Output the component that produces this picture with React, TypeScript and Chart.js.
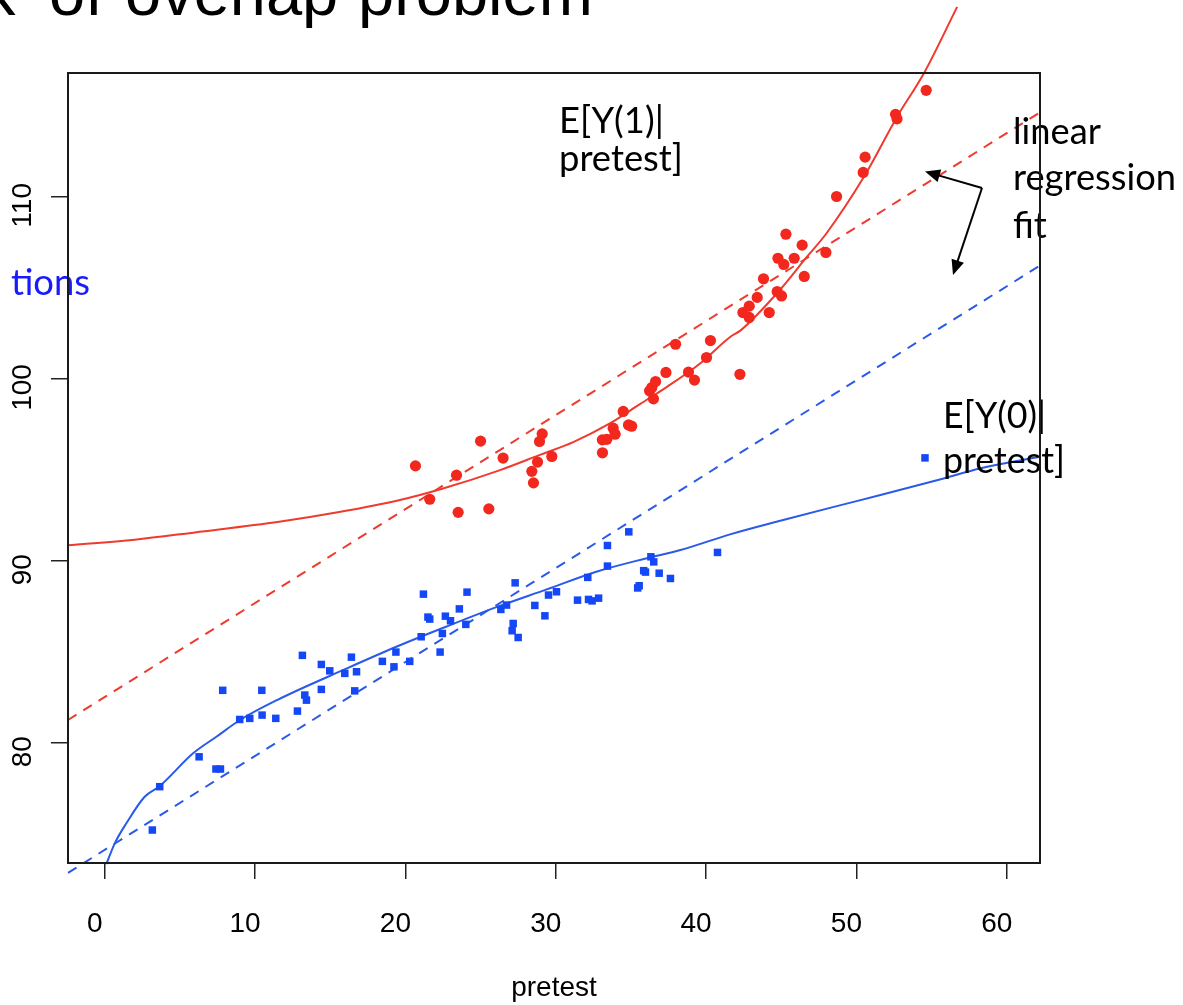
import React, { useEffect, useRef } from "react";
import { Chart, registerables } from "chart.js";

Chart.register(...registerables);

// ---------- data ----------
const xTickValues = [0, 10, 20, 30, 40, 50, 60];
const yTickValues = [80, 90, 100, 110];

const redX = [20.67, 21.62, 23.4, 23.51, 25.0, 25.55, 26.5, 28.41, 28.52, 28.79, 28.92, 29.1, 29.74, 33.11, 33.1, 33.4, 33.82, 33.95, 34.49, 34.84, 35.05, 36.24, 36.39, 36.64, 36.5, 37.33, 37.97, 38.83, 39.23, 40.03, 40.29, 42.25, 42.45, 42.87, 42.87, 43.4, 43.82, 44.2, 44.73, 45.02, 44.78, 45.17, 45.86, 46.53, 45.31, 46.39, 47.97, 48.68, 50.45, 50.58, 52.6, 52.7, 54.64, 56.58];
const redY = [95.2, 93.37, 94.69, 92.65, 96.56, 92.84, 95.63, 94.9, 94.27, 95.41, 96.54, 96.96, 95.72, 95.92, 96.63, 96.66, 97.27, 96.94, 98.19, 97.45, 97.38, 99.32, 99.5, 99.83, 98.88, 100.33, 101.88, 100.35, 99.91, 101.15, 102.08, 100.23, 103.62, 103.97, 103.35, 104.45, 105.47, 103.62, 104.77, 104.53, 106.6, 106.26, 106.6, 105.6, 107.92, 107.32, 106.92, 109.99, 111.31, 112.15, 114.5, 114.25, 115.82, 118.91];

const blueX = [3.17, 3.66, 6.28, 7.4, 7.7, 7.85, 8.98, 9.65, 10.45, 10.47, 11.38, 12.82, 13.31, 13.42, 13.15, 14.41, 14.41, 14.97, 15.97, 16.75, 16.41, 16.63, 18.47, 19.37, 19.24, 20.29, 21.05, 21.2, 21.62, 21.5, 22.31, 22.46, 22.66, 23.0, 23.59, 24.02, 24.1, 26.35, 26.73, 27.3, 27.17, 27.1, 27.5, 28.61, 29.28, 29.52, 30.05, 31.45, 32.13, 32.18, 32.42, 32.85, 33.44, 33.44, 34.86, 35.55, 35.45, 35.97, 35.85, 36.33, 36.52, 36.88, 37.63, 40.76, 54.56];
const blueY = [75.21, 77.59, 79.23, 78.56, 78.56, 82.88, 81.28, 81.34, 82.88, 81.52, 81.34, 81.74, 82.62, 82.34, 84.8, 84.3, 82.93, 83.95, 83.81, 83.9, 84.7, 82.85, 84.47, 84.98, 84.17, 84.47, 85.82, 88.16, 86.79, 86.9, 84.98, 86.0, 86.95, 86.7, 87.35, 86.5, 88.27, 87.32, 87.56, 88.78, 86.55, 86.15, 85.78, 87.54, 86.97, 88.11, 88.29, 87.83, 89.08, 87.87, 87.79, 87.94, 89.7, 90.83, 91.58, 88.62, 88.5, 89.37, 89.45, 90.21, 89.93, 89.31, 89.02, 90.45, 95.64];

const redCurveX = [-2.44, 2, 6, 11.6, 15.5, 19.5, 22.5, 26.3, 28.9, 31.2, 33.6, 35.6, 37.4, 39.6, 41.6, 42.3, 44.9, 46.7, 48.0, 50.5, 52.7, 54.5, 56.7];
const redCurveY = [90.85, 91.15, 91.55, 92.13, 92.65, 93.3, 93.96, 94.97, 95.79, 96.52, 97.53, 98.59, 99.54, 100.82, 102.28, 102.64, 104.85, 106.67, 107.96, 111.07, 114.36, 116.77, 120.4];

const blueCurveX = [0.11, 0.67, 1.44, 2.66, 3.66, 5.88, 7.43, 9.0, 11.5, 16.1, 19.4, 22.7, 26.1, 29.4, 32.7, 36.0, 38.3, 41.6, 45, 48.5, 51.6, 55.8, 58.2, 62.2];
const blueCurveY = [73.34, 74.48, 75.58, 77.04, 77.62, 79.42, 80.33, 81.25, 82.36, 84.08, 85.27, 86.37, 87.46, 88.42, 89.39, 90.12, 90.58, 91.44, 92.2, 92.95, 93.6, 94.51, 95.06, 95.7];

const redFitX = [-2.44, 62.21];
const redFitY = [81.25, 114.61];
const blueFitX = [-2.44, 62.21];
const blueFitY = [72.86, 106.2];

const X_MIN = -2.44;
const X_MAX = 62.21;
const Y_MIN = 73.4;
const Y_MAX = 116.77;

// ---------- helpers ----------
const pts = (xs: number[], ys: number[]) => xs.map((x, i) => ({ x, y: ys[i] }));

const RED_PT = "#f2271d";
const RED_LN = "#ef3b2e";
const BLUE_PT = "#1447f5";
const BLUE_LN = "#2a5ae8";
const SLIDE_FONT = '"Lato", "Open Sans", sans-serif';
const AXIS_FONT = '"Liberation Sans", Arial, sans-serif';

function fitSize(ctx: CanvasRenderingContext2D, ref: string, width: number, family: string) {
  ctx.font = `100px ${family}`;
  const w = ctx.measureText(ref).width;
  return (100 * width) / w;
}

function arrow(ctx: CanvasRenderingContext2D, x0: number, y0: number, x1: number, y1: number) {
  const ang = Math.atan2(y1 - y0, x1 - x0);
  const len = 15;
  const hw = 6.5;
  ctx.beginPath();
  ctx.moveTo(x0, y0);
  ctx.lineTo(x1 - Math.cos(ang) * (len - 2), y1 - Math.sin(ang) * (len - 2));
  ctx.stroke();
  ctx.beginPath();
  ctx.moveTo(x1, y1);
  ctx.lineTo(x1 - Math.cos(ang) * len - Math.sin(ang) * hw, y1 - Math.sin(ang) * len + Math.cos(ang) * hw);
  ctx.lineTo(x1 - Math.cos(ang) * len + Math.sin(ang) * hw, y1 - Math.sin(ang) * len - Math.cos(ang) * hw);
  ctx.closePath();
  ctx.fill();
}

const slidePlugin = {
  id: "slideAnnotations",
  afterDraw(chart: any) {
    const ctx: CanvasRenderingContext2D = chart.ctx;
    const { left, top, right, bottom } = chart.chartArea;
    ctx.save();
    ctx.textAlign = "left";
    ctx.textBaseline = "alphabetic";

    // slide title (cut at top of the picture)
    ctx.fillStyle = "#000";
    ctx.font = `65px ${AXIS_FONT}`;
    ctx.fillText("k", -17, 15);
    ctx.fillText("of", 49, 15);
    ctx.fillText("overlap", 125, 15);
    ctx.fillText("problem", 358, 15);

    // side word of the slide
    const s0 = fitSize(ctx, "pretest]", 124, SLIDE_FONT);
    ctx.font = `${s0}px ${SLIDE_FONT}`;
    ctx.fillStyle = "#1a1aff";
    ctx.textAlign = "right";
    ctx.fillText("tions", 90, 295);
    ctx.textAlign = "left";

    // E[Y(1)|pretest]
    ctx.fillStyle = "#000";
    ctx.fillText("E[Y(1)|", 559, 133);
    ctx.fillText("pretest]", 559, 171);

    // linear regression fit
    const s1 = fitSize(ctx, "regression", 163, SLIDE_FONT);
    ctx.font = `${s1}px ${SLIDE_FONT}`;
    ctx.fillText("linear", 1013, 144);
    ctx.fillText("regression", 1013, 190);
    ctx.fillText("fit", 1013, 238);

    // E[Y(0)|pretest]
    const s2 = fitSize(ctx, "pretest]", 122, SLIDE_FONT);
    ctx.font = `${s2}px ${SLIDE_FONT}`;
    ctx.fillText("E[Y(0)|", 943, 428);
    ctx.fillText("pretest]", 943, 473);

    // arrows
    ctx.strokeStyle = "#000";
    ctx.fillStyle = "#000";
    ctx.lineWidth = 2;
    arrow(ctx, 982, 188, 925, 171.5);
    arrow(ctx, 982, 188, 953, 275);

    // plot box
    ctx.strokeStyle = "#1a1a1a";
    ctx.lineWidth = 2;
    ctx.strokeRect(left, top, right - left, bottom - top);
    ctx.restore();
  },
};

export default function App() {
  const ref = useRef<HTMLCanvasElement>(null);

  useEffect(() => {
    if (!ref.current) return;
    const tickFont = { family: AXIS_FONT, size: 28 };
    const curve = {
      showLine: true,
      borderWidth: 2,
      pointRadius: 0,
      cubicInterpolationMode: "monotone",
      clip: false,
    };
    const fit = {
      showLine: true,
      borderWidth: 2,
      borderDash: [10, 8],
      pointRadius: 0,
      clip: false,
    };
    const chart = new Chart(ref.current, {
      type: "scatter",
      data: {
        datasets: [
          {
            label: "treated",
            data: pts(redX, redY),
            pointStyle: "circle",
            pointRadius: 5.6,
            pointBackgroundColor: RED_PT,
            pointBorderWidth: 0,
            showLine: false,
            clip: false,
          } as any,
          {
            label: "control",
            data: pts(blueX, blueY),
            pointStyle: "rect",
            pointRadius: 5.3,
            pointBackgroundColor: BLUE_PT,
            pointBorderWidth: 0,
            showLine: false,
            clip: false,
          } as any,
          { label: "E[Y(1)|pretest]", data: pts(redCurveX, redCurveY), borderColor: RED_LN, ...curve } as any,
          { label: "E[Y(0)|pretest]", data: pts(blueCurveX, blueCurveY), borderColor: BLUE_LN, ...curve } as any,
          { label: "linear fit treated", data: pts(redFitX, redFitY), borderColor: RED_LN, ...fit } as any,
          { label: "linear fit control", data: pts(blueFitX, blueFitY), borderColor: BLUE_LN, ...fit } as any,
        ],
      },
      options: {
        responsive: false,
        animation: false,
        events: [],
        layout: { padding: { left: 0, top: 73, right: 143, bottom: 0 } },
        plugins: {
          legend: { display: false },
          tooltip: { enabled: false },
          title: { display: false },
        },
        scales: {
          x: {
            type: "linear",
            min: X_MIN,
            max: X_MAX,
            afterBuildTicks: (axis: any) => {
              axis.ticks = xTickValues.map((v) => ({ value: v }));
            },
            afterFit: (axis: any) => {
              axis.height = 142;
            },
            ticks: {
              font: tickFont,
              color: "#000",
              padding: 28,
              labelOffset: -10,
              autoSkip: false,
              maxRotation: 0,
              minRotation: 0,
              callback: (v: any) => String(v),
            },
            grid: {
              drawOnChartArea: false,
              drawTicks: true,
              tickLength: 16,
              color: "#222",
              lineWidth: 1.5,
            },
            border: { display: false },
            title: {
              display: true,
              text: "pretest",
              color: "#000",
              font: { family: AXIS_FONT, size: 28 },
              padding: { top: 0, bottom: 0 },
            },
          },
          y: {
            type: "linear",
            min: Y_MIN,
            max: Y_MAX,
            afterBuildTicks: (axis: any) => {
              axis.ticks = yTickValues.map((v) => ({ value: v }));
            },
            afterFit: (axis: any) => {
              axis.width = 68;
            },
            ticks: {
              font: tickFont,
              color: "#000",
              padding: 4,
              labelOffset: 9,
              crossAlign: "center",
              minRotation: 90,
              maxRotation: 90,
              autoSkip: false,
              callback: (v: any) => String(v),
            },
            grid: {
              drawOnChartArea: false,
              drawTicks: true,
              tickLength: 17,
              color: "#222",
              lineWidth: 1.5,
            },
            border: { display: false },
          },
        },
      } as any,
      plugins: [slidePlugin],
    });
    return () => chart.destroy();
  }, []);

  return (
    <div style={{ position: "fixed", left: 0, top: 0, width: 1183, height: 1005, background: "#fff" }}>
      <canvas ref={ref} width={1183} height={1005} style={{ display: "block", width: 1183, height: 1005 }} />
    </div>
  );
}
